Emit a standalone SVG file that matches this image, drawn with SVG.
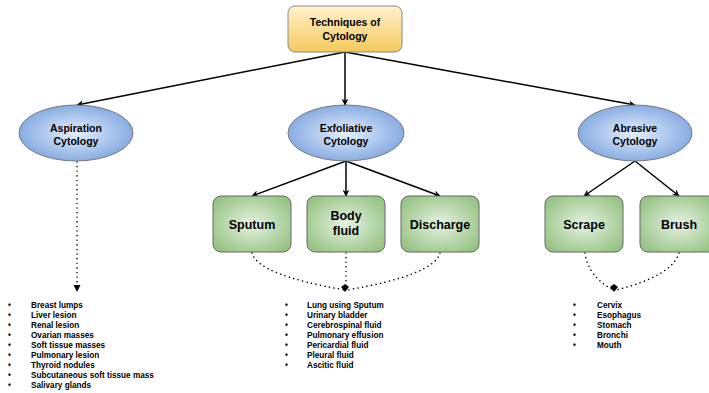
<svg xmlns="http://www.w3.org/2000/svg" width="709" height="393" viewBox="0 0 709 393">
<defs>
<linearGradient id="gy" x1="0" y1="0" x2="0" y2="1"><stop offset="0" stop-color="#fff2cc"/><stop offset="1" stop-color="#f5c95d"/></linearGradient>
<radialGradient id="gb" cx="0.5" cy="0.5" r="0.55"><stop offset="0" stop-color="#e6effc"/><stop offset="1" stop-color="#7ea6e0"/></radialGradient>
<radialGradient id="gg" cx="0.5" cy="0.5" r="0.6"><stop offset="0" stop-color="#e6f2e2"/><stop offset="1" stop-color="#97c485"/></radialGradient>
<marker id="ah" viewBox="0 0 10 10" refX="9" refY="5" markerWidth="7" markerHeight="7" orient="auto" markerUnits="userSpaceOnUse"><path d="M0,0 L10,5 L0,10 L3,5 Z" fill="#000"/></marker>
</defs>
<style>
.t{font-family:"Liberation Sans",Arial,sans-serif;font-weight:bold;fill:#000;text-anchor:middle}
.s{font-size:10.5px}
.g{font-size:12.5px}
.l{font-family:"Liberation Sans",Arial,sans-serif;font-weight:bold;font-size:8.2px;fill:#000}
.e{fill:url(#gb);stroke:#777;stroke-width:1}
.r{fill:url(#gg);stroke:#666;stroke-width:1}
.c{fill:none;stroke:#000;stroke-width:1.5}
.d{fill:none;stroke:#000;stroke-width:1.5;stroke-dasharray:0.1 4.5;stroke-linecap:round}
</style>
<g id="connectors">
<line class="c" x1="345" y1="52" x2="77" y2="105" marker-end="url(#ah)"/>
<line class="c" x1="345" y1="52" x2="345" y2="105" marker-end="url(#ah)"/>
<line class="c" x1="345" y1="52" x2="635" y2="105" marker-end="url(#ah)"/>
<line class="c" x1="346" y1="161" x2="252" y2="196" marker-end="url(#ah)"/>
<line class="c" x1="346" y1="161" x2="346" y2="196" marker-end="url(#ah)"/>
<line class="c" x1="346" y1="161" x2="440" y2="196" marker-end="url(#ah)"/>
<line class="c" x1="635" y1="161" x2="584" y2="196" marker-end="url(#ah)"/>
<line class="c" x1="635" y1="161" x2="679" y2="196" marker-end="url(#ah)"/>
<line class="d" x1="77" y1="162" x2="77" y2="290"/>
<path d="M73.5,285 L77,292 L80.5,285 Z" fill="#000"/>
<path class="d" d="M252,253 Q258,275 345,290"/>
<path class="d" d="M346,253 L346,288"/>
<path class="d" d="M440,253 Q434,275 347,290"/>
<path d="M341,287 L345,284 L349,287 L345,292 Z" fill="#000"/>
<path class="d" d="M585,253 Q588,276 613,290"/>
<path class="d" d="M679,253 Q672,276 616,290"/>
<path d="M610,287 L614,284 L618,287 L614,292 Z" fill="#000"/>
</g>
<g id="techniques">
<rect x="288" y="6" width="114" height="46" rx="7" fill="url(#gy)" stroke="#888"/>
<text class="t s" x="345" y="26">Techniques of</text>
<text class="t s" x="345" y="40">Cytology</text>
</g>
<g id="aspiration">
<ellipse class="e" cx="76" cy="133" rx="57" ry="28"/>
<text class="t s" x="76" y="132">Aspiration</text>
<text class="t s" x="76" y="145">Cytology</text>
</g>
<g id="exfoliative">
<ellipse class="e" cx="346" cy="133" rx="58" ry="28"/>
<text class="t s" x="346" y="132">Exfoliative</text>
<text class="t s" x="346" y="145">Cytology</text>
</g>
<g id="abrasive">
<ellipse class="e" cx="635" cy="133" rx="57" ry="28"/>
<text class="t s" x="635" y="132">Abrasive</text>
<text class="t s" x="635" y="145">Cytology</text>
</g>
<g id="sputum">
<rect class="r" x="213" y="196" width="78" height="56" rx="8"/>
<text class="t g" x="252" y="229">Sputum</text>
</g>
<g id="bodyfluid">
<rect class="r" x="307" y="196" width="78" height="56" rx="8"/>
<text class="t g" x="346" y="220">Body</text>
<text class="t g" x="346" y="235">fluid</text>
</g>
<g id="discharge">
<rect class="r" x="401" y="196" width="78" height="56" rx="8"/>
<text class="t g" x="440" y="229">Discharge</text>
</g>
<g id="scrape">
<rect class="r" x="545" y="196" width="78" height="56" rx="8"/>
<text class="t g" x="584" y="229">Scrape</text>
</g>
<g id="brush">
<rect class="r" x="640" y="196" width="78" height="56" rx="8"/>
<text class="t g" x="679" y="229">Brush</text>
</g>
<g id="aspiration-list">
<text class="l" x="8" y="308">•<tspan x="31">Breast lumps</tspan></text>
<text class="l" x="8" y="318">•<tspan x="31">Liver lesion</tspan></text>
<text class="l" x="8" y="328">•<tspan x="31">Renal lesion</tspan></text>
<text class="l" x="8" y="338">•<tspan x="31">Ovarian masses</tspan></text>
<text class="l" x="8" y="348">•<tspan x="31">Soft tissue masses</tspan></text>
<text class="l" x="8" y="358">•<tspan x="31">Pulmonary lesion</tspan></text>
<text class="l" x="8" y="368">•<tspan x="31">Thyroid nodules</tspan></text>
<text class="l" x="8" y="378">•<tspan x="31">Subcutaneous soft tissue mass</tspan></text>
<text class="l" x="8" y="388">•<tspan x="31">Salivary glands</tspan></text>
</g>
<g id="exfoliative-list">
<text class="l" x="285" y="308">•<tspan x="307">Lung using Sputum</tspan></text>
<text class="l" x="285" y="318">•<tspan x="307">Urinary bladder</tspan></text>
<text class="l" x="285" y="328">•<tspan x="307">Cerebrospinal fluid</tspan></text>
<text class="l" x="285" y="338">•<tspan x="307">Pulmonary effusion</tspan></text>
<text class="l" x="285" y="348">•<tspan x="307">Pericardial fluid</tspan></text>
<text class="l" x="285" y="358">•<tspan x="307">Pleural fluid</tspan></text>
<text class="l" x="285" y="368">•<tspan x="307">Ascitic fluid</tspan></text>
</g>
<g id="abrasive-list">
<text class="l" x="573" y="308">•<tspan x="597">Cervix</tspan></text>
<text class="l" x="573" y="318">•<tspan x="597">Esophagus</tspan></text>
<text class="l" x="573" y="328">•<tspan x="597">Stomach</tspan></text>
<text class="l" x="573" y="338">•<tspan x="597">Bronchi</tspan></text>
<text class="l" x="573" y="348">•<tspan x="597">Mouth</tspan></text>
</g>
</svg>
